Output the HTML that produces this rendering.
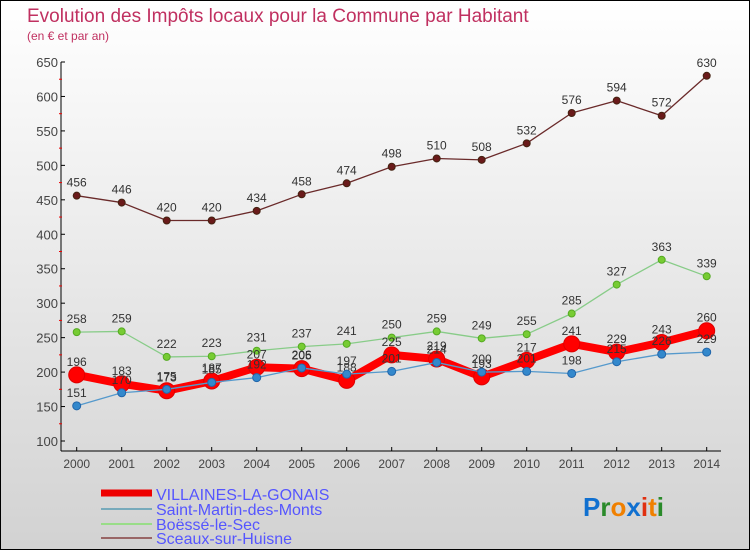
<!DOCTYPE html>
<html><head><meta charset="utf-8"><style>
body{margin:0}
#c{position:relative;width:750px;height:550px;overflow:hidden;background:linear-gradient(#fff,#d2d2d2);border:1px solid #000;box-sizing:border-box;font-family:"Liberation Sans",sans-serif}
</style></head><body>
<div id="c">
<svg width="750" height="550" id="svg">
<text x="26" y="21" font-size="19" fill="#c03060">Evolution des Impôts locaux pour la Commune par Habitant</text>
<text x="26" y="39" font-size="12" fill="#c03060">(en € et par an)</text>
<g id="axes"></g><g id="series"></g>
<g>
<line x1="100" y1="492" x2="151" y2="492" stroke="#e00" stroke-width="7"/>
<text x="155" y="499" font-size="16" fill="#55f">VILLAINES-LA-GONAIS</text>
<line x1="100" y1="508" x2="151" y2="508" stroke="#7ab" stroke-width="2"/>
<text x="155" y="514" font-size="16" fill="#55f">Saint-Martin-des-Monts</text>
<line x1="100" y1="523" x2="151" y2="523" stroke="#9d8" stroke-width="2"/>
<text x="155" y="529" font-size="16" fill="#55f">Boëssé-le-Sec</text>
<line x1="100" y1="537" x2="151" y2="537" stroke="#966" stroke-width="2"/>
<text x="155" y="543" font-size="16" fill="#55f">Sceaux-sur-Huisne</text>
</g>
<g font-size="26" font-weight="bold">
<text x="582" y="515" fill="#1070d0">P<tspan fill="#2a8a2a">r</tspan><tspan fill="#f08000">o</tspan><tspan fill="#1070d0">x</tspan><tspan fill="#e03010">i</tspan><tspan fill="#f08000">t</tspan><tspan fill="#2a8a2a">i</tspan></text>
</g>
</svg>
</div>
<script>
const years=[2000,2001,2002,2003,2004,2005,2006,2007,2008,2009,2010,2011,2012,2013,2014];
const villaines=[196,183,173,187,207,205,188,225,219,193,217,241,229,243,260];
const saintMartin=[151,170,175,185,192,206,197,201,214,200,201,198,215,226,229];
const boesse=[258,259,222,223,231,237,241,250,259,249,255,285,327,363,339];
const sceaux=[456,446,420,420,434,458,474,498,510,508,532,576,594,572,630];
const yTicks=[100,150,200,250,300,350,400,450,500,550,600,650];
const NS="http://www.w3.org/2000/svg";
function X(i){return 75.7+i*45;}
function Y(v){return 440-(v-100)*(379/550);}
function mk(t,a,p){const e=document.createElementNS(NS,t);for(const k in a)e.setAttribute(k,a[k]);p.appendChild(e);return e;}
const ax=document.getElementById('axes');
const yl=mk('line',{x1:60,y1:Y(650),x2:60,y2:450,stroke:'#000'},ax);


const xl=mk('line',{x1:60,y1:450,x2:720,y2:450,stroke:'#000'},ax);


yTicks.forEach(v=>{
  mk('line',{x1:60,y1:Y(v),x2:64,y2:Y(v),stroke:'#000'},ax);
  const t=mk('text',{x:57,y:Y(v)+5,'font-size':13,fill:'#444','text-anchor':'end'},ax);t.textContent=v;
  
  
  if(v<650)mk('line',{x1:58,y1:Y(v+25),x2:61,y2:Y(v+25),stroke:'#e00'},ax);
});
years.forEach((y,i)=>{
  mk('line',{x1:X(i),y1:446,x2:X(i),y2:450,stroke:'#000'},ax);
  const t=mk('text',{x:X(i),y:467,'font-size':12,fill:'#444','text-anchor':'middle'},ax);t.textContent=y;
  
  
});
const sg=document.getElementById('series');
function series(data,name,color,dot,w,r,stroke){
  const g=mk('g',{},sg);
  
  
  const p=mk('polyline',{points:data.map((v,i)=>X(i)+','+Y(v)).join(' '),fill:'none',stroke:color,'stroke-width':w,'stroke-linejoin':'round'},g);
  
  
  data.forEach((v,i)=>{
    const c=mk('circle',{cx:X(i),cy:Y(v),r:r,fill:dot,stroke:stroke,'stroke-width':1},g);
    
    
    const t=mk('text',{x:X(i),y:Y(v)-9,'font-size':12,fill:'#333','text-anchor':'middle'},g);t.textContent=v;
    
    
  });
}
series(sceaux,'sceaux','#6a2a2a','#6a1a1a',1.3,3.5,'#421');
series(boesse,'boesse','#8c8','#7c3','1.3',3.5,'#5a2');
series(villaines,'villaines','#f00','#f00',8,8,'#d00');
series(saintMartin,'saint-martin','#59c','#38c','1.3',4,'#26a');
</script>
</body></html>
